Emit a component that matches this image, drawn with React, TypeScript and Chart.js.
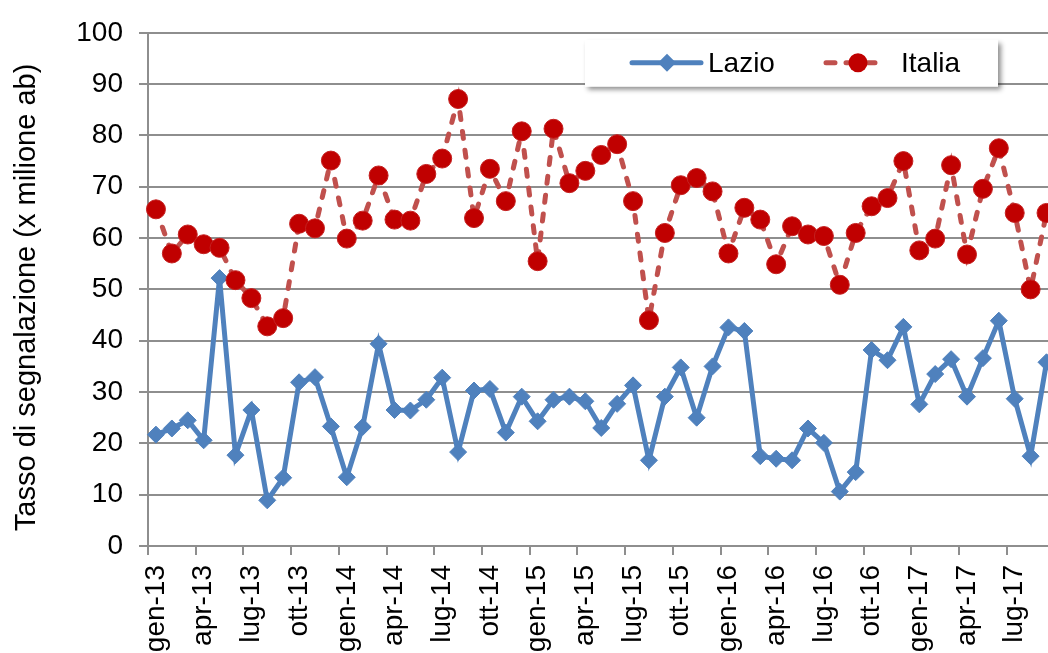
import React, { useEffect, useRef } from 'react';
import { Chart, registerables } from 'chart.js';

Chart.register(...registerables);

const monthNames = ['gen', 'feb', 'mar', 'apr', 'mag', 'giu', 'lug', 'ago', 'set', 'ott', 'nov', 'dic'];
const years = ['13', '14', '15', '16', '17'];
const categories = years.flatMap((y) => monthNames.map((m) => `${m}-${y}`));

const seriesNames = ['Lazio', 'Italia'];

const lazio = [
  21.7, 22.9, 24.5, 20.6, 52.2, 17.7, 26.5, 8.9, 13.3, 31.9, 32.9, 23.3,
  13.4, 23.2, 39.4, 26.5, 26.4, 28.5, 32.8, 18.3, 30.3, 30.6, 22.1, 29.1,
  24.3, 28.5, 29.1, 28.2, 23.0, 27.7, 31.3, 16.7, 29.1, 34.8, 25.0, 35.0,
  42.6, 41.9, 17.5, 17.0, 16.7, 22.9, 20.1, 10.6, 14.4, 38.2, 36.2, 42.7,
  27.6, 33.5, 36.4, 29.1, 36.6, 43.9, 28.7, 17.5, 35.8,
];

const italia = [
  65.6, 57.0, 60.7, 58.8, 58.1, 51.8, 48.3, 42.8, 44.4, 62.8, 61.9, 75.1,
  59.9, 63.4, 72.2, 63.6, 63.4, 72.5, 75.5, 87.1, 63.9, 73.5, 67.2, 80.8,
  55.5, 81.3, 70.7, 73.1, 76.2, 78.3, 67.2, 44.0, 61.0, 70.3, 71.7, 69.1,
  57.0, 65.9, 63.6, 54.9, 62.3, 60.7, 60.4, 50.9, 61.0, 66.2, 67.8, 75.0,
  57.6, 59.9, 74.2, 56.8, 69.6, 77.5, 64.9, 50.0, 64.9,
];

const yMin = 0;
const yMax = 100;
const yStep = 10;
const yTitle = 'Tasso di segnalazione (x milione ab)';

const BLUE = '#4F81BD';
const RED_LINE = '#C0504D';
const RED_MARK = '#C00000';
const GRID = '#8E8E8E';
const FONT = "'Liberation Sans', Arial, sans-serif";

const CANVAS_W = 1138;
const CANVAS_H = 700;

const titlePlugin = {
  id: 'yTitle',
  afterDraw(chart: any) {
    const ctx = chart.ctx;
    const { top, bottom } = chart.chartArea;
    ctx.save();
    ctx.translate(35, (top + bottom) / 2 + 8);
    ctx.rotate(-Math.PI / 2);
    ctx.font = `29px ${FONT}`;
    ctx.fillStyle = '#000';
    ctx.textAlign = 'center';
    ctx.textBaseline = 'alphabetic';
    ctx.fillText(yTitle, 0, 0);
    ctx.restore();
  },
};

const legendPlugin = {
  id: 'boxLegend',
  afterDraw(chart: any) {
    const ctx = chart.ctx;
    const { left, top } = chart.chartArea;
    const bx = left + 437;
    const by = top + 7;
    const bw = 413;
    const bh = 47;
    const cy = by + 23;
    ctx.save();
    ctx.shadowColor = 'rgba(0,0,0,0.45)';
    ctx.shadowBlur = 5;
    ctx.shadowOffsetX = 3;
    ctx.shadowOffsetY = 3;
    ctx.fillStyle = '#fff';
    ctx.fillRect(bx, by, bw, bh);
    ctx.restore();

    ctx.save();
    // Lazio
    ctx.strokeStyle = BLUE;
    ctx.lineWidth = 5;
    ctx.lineCap = 'round';
    ctx.beginPath();
    ctx.moveTo(bx + 47, cy);
    ctx.lineTo(bx + 116, cy);
    ctx.stroke();
    const dx = bx + 82;
    const r = 9;
    ctx.fillStyle = BLUE;
    ctx.beginPath();
    ctx.moveTo(dx, cy - r);
    ctx.lineTo(dx + r, cy);
    ctx.lineTo(dx, cy + r);
    ctx.lineTo(dx - r, cy);
    ctx.closePath();
    ctx.fill();
    // Italia
    ctx.strokeStyle = RED_LINE;
    ctx.lineCap = 'round';
    ctx.setLineDash([9, 11]);
    ctx.beginPath();
    ctx.moveTo(bx + 241, cy);
    ctx.lineTo(bx + 298, cy);
    ctx.stroke();
    ctx.setLineDash([]);
    ctx.fillStyle = RED_MARK;
    ctx.beginPath();
    ctx.arc(bx + 273, cy, 9.5, 0, Math.PI * 2);
    ctx.fill();

    ctx.fillStyle = '#000';
    ctx.font = `28px ${FONT}`;
    ctx.textBaseline = 'middle';
    ctx.textAlign = 'left';
    ctx.fillText(seriesNames[0], bx + 123, cy + 1);
    ctx.fillText(seriesNames[1], bx + 316, cy + 1);
    ctx.restore();
  },
};

export default function App() {
  const canvasRef = useRef<HTMLCanvasElement | null>(null);

  useEffect(() => {
    const canvas = canvasRef.current;
    if (!canvas) return;
    const chart = new Chart(canvas, {
      type: 'line',
      data: {
        labels: categories,
        datasets: [
          {
            label: seriesNames[0],
            data: lazio,
            borderColor: BLUE,
            backgroundColor: BLUE,
            borderWidth: 5,
            pointStyle: 'rectRot',
            pointRadius: 8.5,
            pointBorderWidth: 1,
            pointBorderColor: BLUE,
            pointBackgroundColor: BLUE,
            tension: 0,
            order: 1,
          },
          {
            label: seriesNames[1],
            data: italia,
            borderColor: RED_LINE,
            backgroundColor: RED_MARK,
            borderWidth: 5,
            borderDash: [7, 12],
            borderCapStyle: 'round',
            pointStyle: 'circle',
            pointRadius: 9.5,
            pointBorderWidth: 1,
            pointBorderColor: '#C42020',
            pointBackgroundColor: RED_MARK,
            tension: 0,
            order: 0,
          },
        ],
      },
      options: {
        responsive: false,
        animation: false,
        devicePixelRatio: 1,
        layout: { padding: { left: 0, top: 31, right: 20, bottom: 0 } },
        plugins: {
          legend: { display: false },
          tooltip: { enabled: false },
          title: { display: false },
        },
        scales: {
          x: {
            type: 'category',
            offset: true,
            grid: {
              offset: true,
              drawOnChartArea: false,
              drawTicks: true,
              tickLength: 9,
              lineWidth: 2,
              color: (ctx: any) => (ctx.index % 3 === 0 ? GRID : 'rgba(0,0,0,0)'),
            },
            border: { display: true, color: GRID, width: 2 },
            ticks: {
              autoSkip: false,
              maxRotation: 90,
              minRotation: 90,
              padding: 10,
              color: '#000',
              font: { family: FONT, size: 28 },
              callback: (_v: any, i: number) => (i % 3 === 0 ? categories[i] : ''),
            },
            afterFit: (scale: any) => {
              scale.height = CANVAS_H - 546;
            },
          },
          y: {
            min: yMin,
            max: yMax,
            grid: { color: GRID, lineWidth: 2, tickLength: 9, drawTicks: true },
            border: { display: true, color: GRID, width: 2 },
            ticks: {
              stepSize: yStep,
              padding: 16,
              color: '#000',
              font: { family: FONT, size: 28 },
            },
            afterFit: (scale: any) => {
              scale.width = 148;
            },
          },
        },
      },
      plugins: [titlePlugin, legendPlugin],
    });
    return () => chart.destroy();
  }, []);

  return (
    <div
      style={{
        position: 'fixed',
        left: 0,
        top: 0,
        width: 1048,
        height: 653,
        overflow: 'hidden',
        background: '#fff',
      }}
    >
      <canvas
        ref={canvasRef}
        width={CANVAS_W}
        height={CANVAS_H}
        style={{ display: 'block', width: CANVAS_W, height: CANVAS_H }}
      />
    </div>
  );
}
